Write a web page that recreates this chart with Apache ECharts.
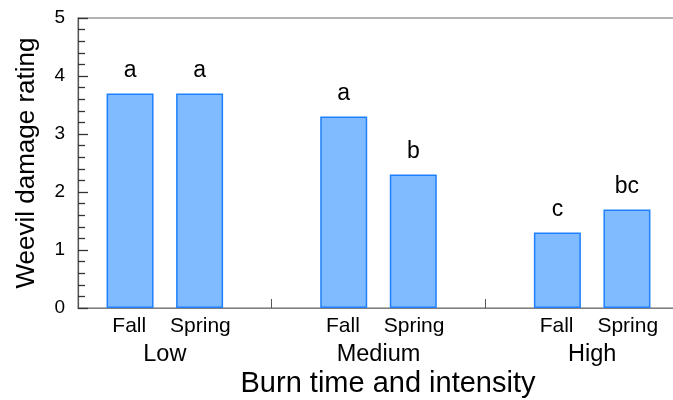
<!DOCTYPE html>
<html>
<head>
<meta charset="utf-8">
<script src="https://cdn.jsdelivr.net/npm/echarts@6/dist/echarts.min.js"></script>
<style>
html,body{margin:0;padding:0;background:#fff;}
#c{width:673px;height:400px;}
</style>
</head>
<body>
<div id="c"></div>
<script>
const groups = ['Low', 'Medium', 'High'];
const seasons = ['Fall', 'Spring'];
const fallValues = [3.7, 3.3, 1.3];
const springValues = [3.7, 2.3, 1.7];
const fallLetters = ['a', 'a', 'c'];
const springLetters = ['a', 'b', 'bc'];
const yTicks = [0, 1, 2, 3, 4, 5];
const yTitle = 'Weevil damage rating';
const xTitle = 'Burn time and intensity';

const FONT = '"Liberation Sans", Arial, Helvetica, sans-serif';

// sub-category positions: '' separators between groups, season names under bars
const subCats = [''];
groups.forEach(() => { subCats.push(seasons[0], seasons[1], ''); });

const chart = echarts.init(document.getElementById('c'), null, {renderer: 'canvas'});

function barSeries(name, values, letters) {
  return {
    name: name,
    type: 'bar',
    xAxisIndex: 0,
    yAxisIndex: 0,
    data: values,
    barWidth: 47,
    barGap: '48%',
    itemStyle: {color: '#80bbff', borderColor: '#1f80ff', borderWidth: 1.5},
    label: {
      show: true,
      position: 'top',
      distance: 11,
      formatter: p => letters[p.dataIndex],
      fontSize: 23,
      fontFamily: FONT,
      color: '#000'
    },
    silent: true,
    animation: false
  };
}

chart.setOption({
  animation: false,
  grid: [
    {left: 58, width: 641, top: 18, bottom: 92, show: false, outerBoundsMode: 'none', containLabel: false},
    {left: 78, width: 600, top: 18, bottom: 92, show: true, borderColor: '#9a9a9a', borderWidth: 1.3,
     backgroundColor: 'transparent', outerBoundsMode: 'none', containLabel: false}
  ],
  xAxis: [
    {
      type: 'category', gridIndex: 0, position: 'bottom', data: groups, boundaryGap: true,
      axisLine: {show: false}, axisTick: {show: false},
      axisLabel: {margin: 35, fontSize: 23.5, fontFamily: FONT, color: '#000'}
    },
    {
      type: 'category', gridIndex: 0, position: 'bottom', data: subCats, boundaryGap: false,
      axisLine: {show: false},
      axisTick: {
        show: true, inside: true, length: 9,
        interval: (idx, val) => val === '' && idx > 0 && idx < subCats.length - 1,
        lineStyle: {color: '#555', width: 1}
      },
      axisLabel: {margin: 8, fontSize: 21, fontFamily: FONT, color: '#000', interval: 0}
    },
    {
      type: 'value', gridIndex: 1, min: 0, max: 1, position: 'bottom',
      axisLine: {show: true, onZero: false, lineStyle: {color: '#808080', width: 1.2}},
      axisTick: {show: false}, axisLabel: {show: false}, splitLine: {show: false}
    }
  ],
  yAxis: [
    {type: 'value', gridIndex: 0, show: false, min: yTicks[0], max: yTicks[yTicks.length - 1]},
    {
      type: 'value', gridIndex: 1, min: yTicks[0], max: yTicks[yTicks.length - 1], interval: 1,
      position: 'left',
      name: yTitle, nameLocation: 'middle', nameGap: 38,
      nameTextStyle: {fontSize: 26, fontFamily: FONT, color: '#000'},
      axisLine: {show: true, onZero: false, lineStyle: {color: '#555', width: 1.2}},
      axisTick: {show: true, inside: true, length: 10, lineStyle: {color: '#333', width: 1.3}},
      minorTick: {show: true, splitNumber: 5, length: 7, lineStyle: {color: '#333', width: 1.3}},
      splitLine: {show: false},
      axisLabel: {margin: 13, fontSize: 19, fontFamily: FONT, color: '#000',
        formatter: v => yTicks.includes(v) ? String(v) : ''}
    }
  ],
  graphic: [{
    type: 'text', x: 388, y: 384,
    style: {text: xTitle, fontSize: 29, fontFamily: FONT, fill: '#000', align: 'center', verticalAlign: 'middle'}
  }],
  series: [
    barSeries(seasons[0], fallValues, fallLetters),
    barSeries(seasons[1], springValues, springLetters)
  ]
});
</script>
</body>
</html>
